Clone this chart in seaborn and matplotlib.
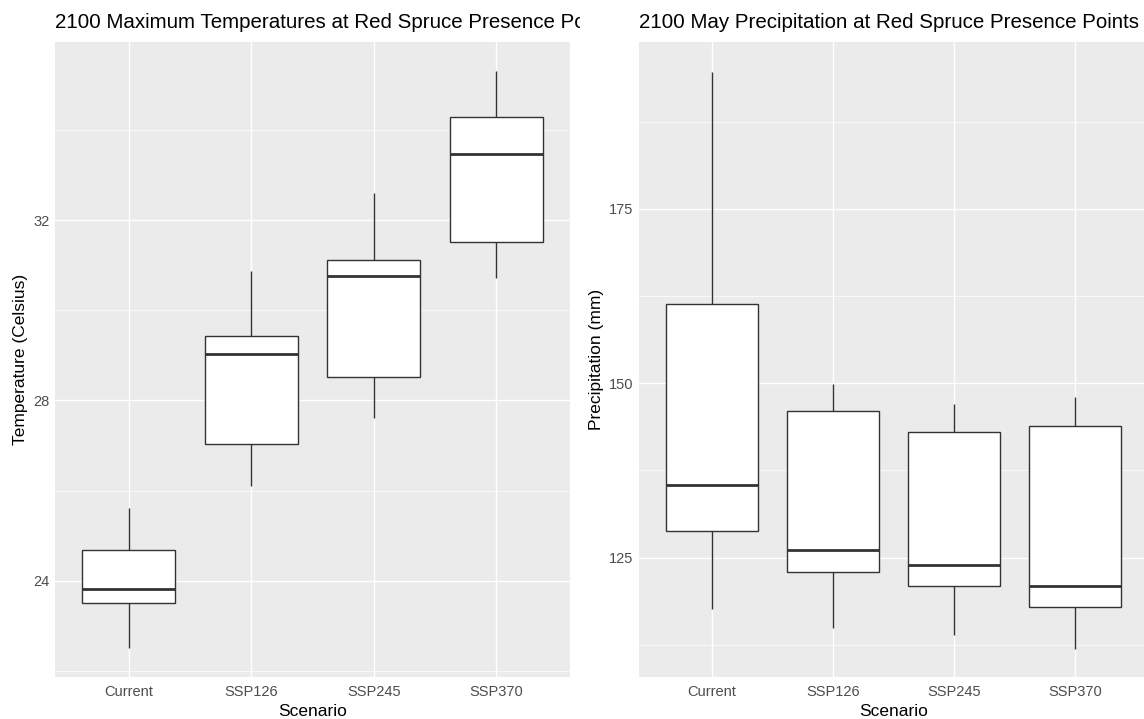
import numpy as np
import pandas as pd
import matplotlib
matplotlib.use("Agg")
import matplotlib.pyplot as plt
from matplotlib.patches import Rectangle
from matplotlib.ticker import FixedLocator
import seaborn as sns

# Scenario categories
scenarios = ["Current", "SSP126", "SSP245", "SSP370"]

# Five-number summaries (lower whisker, Q1, median, Q3, upper whisker)
temp_current = [22.50, 23.50, 23.82, 24.67, 25.62]
temp_ssp126 = [26.11, 27.04, 29.02, 29.42, 30.87]
temp_ssp245 = [27.62, 28.51, 30.76, 31.11, 32.60]
temp_ssp370 = [30.71, 31.51, 33.47, 34.29, 35.31]

precip_current = [117.6, 128.8, 135.4, 161.4, 194.7]
precip_ssp126 = [114.9, 122.9, 126.1, 146.0, 149.9]
precip_ssp245 = [113.9, 120.9, 123.9, 143.0, 147.0]
precip_ssp370 = [111.9, 117.9, 121.0, 143.9, 148.0]

temp_ticks = [24, 28, 32]
temp_minor = [22, 26, 30, 34]
precip_ticks = [125, 150, 175]
precip_minor = [112.5, 137.5, 162.5, 187.5]


def long_frame(groups):
    rows = []
    for name, vals in zip(scenarios, groups):
        for v in vals:
            rows.append((name, v))
    return pd.DataFrame(rows, columns=["Scenario", "Value"])


temp_df = long_frame([temp_current, temp_ssp126, temp_ssp245, temp_ssp370])
precip_df = long_frame([precip_current, precip_ssp126, precip_ssp245, precip_ssp370])

sns.set_style("white")
plt.rcParams["font.family"] = ["Liberation Sans", "DejaVu Sans"]

W, H = 1144, 719
fig = plt.figure(figsize=(W / 100, H / 100), dpi=100)

PANEL_BG = "#EBEBEB"
LINE = "#333333"
TICKLAB = "#4D4D4D"


def px_axes(x0, x1, y0, y1):
    return fig.add_axes([x0 / W, 1 - y1 / H, (x1 - x0) / W, (y1 - y0) / H])


def style_panel(ax, df, major, minor, ylim, ylabel, ylabel_x):
    ax.set_facecolor(PANEL_BG)
    for s in ax.spines.values():
        s.set_visible(False)
    sns.boxplot(data=df, x="Scenario", y="Value", ax=ax, color="white",
                saturation=1, linecolor=LINE, linewidth=1.0, width=0.76,
                whis=(0, 100), showcaps=False,
                medianprops=dict(linewidth=2.0, color=LINE), zorder=3)
    ax.set_xlim(-0.6, 3.6)
    ax.set_ylim(*ylim)
    ax.yaxis.set_major_locator(FixedLocator(major))
    ax.yaxis.set_minor_locator(FixedLocator(minor))
    ax.grid(which="major", color="white", linewidth=1.0, zorder=0)
    ax.grid(which="minor", axis="y", color="white", linewidth=0.5, zorder=0)
    ax.set_axisbelow(True)
    ax.tick_params(which="major", length=2.7, width=0.8, color=LINE,
                   labelcolor=TICKLAB, labelsize=10.5)
    ax.tick_params(axis="x", which="major", pad=3.2)
    ax.tick_params(axis="y", which="major", pad=1.6)
    ax.tick_params(which="minor", length=0)
    ax.set_yticklabels([str(t) for t in major])
    ax.set_xlabel("Scenario", fontsize=12.5, color="black")
    ax.set_ylabel(ylabel, fontsize=12.5, color="black")
    ax.xaxis.set_label_coords(0.5, -0.043)
    ax.yaxis.set_label_coords(ylabel_x, 0.5)


ax1 = px_axes(55.3, 570, 42.3, 677)
style_panel(ax1, temp_df, temp_ticks, temp_minor, (21.86, 35.95),
            "Temperature (Celsius)", -0.053)

ax2 = px_axes(639.3, 1148, 42.3, 677)
style_panel(ax2, precip_df, precip_ticks, precip_minor, (107.88, 198.9),
            "Precipitation (mm)", -0.069)

# Left title runs under the right-hand plot's white margin
fig.text(55.3 / W, 1 - 28 / H, "2100 Maximum Temperatures at Red Spruce Presence Points",
         fontsize=14.8, color="black", ha="left", va="baseline", zorder=1)
fig.add_artist(Rectangle((580 / W, 1 - 41 / H), (639 - 580) / W, 41 / H,
                         transform=fig.transFigure, facecolor="white",
                         edgecolor="none", zorder=2))
fig.text(639.3 / W, 1 - 28 / H, "2100 May Precipitation at Red Spruce Presence Points",
         fontsize=14.8, color="black", ha="left", va="baseline", zorder=3)

fig.savefig("out.png", dpi=100)
